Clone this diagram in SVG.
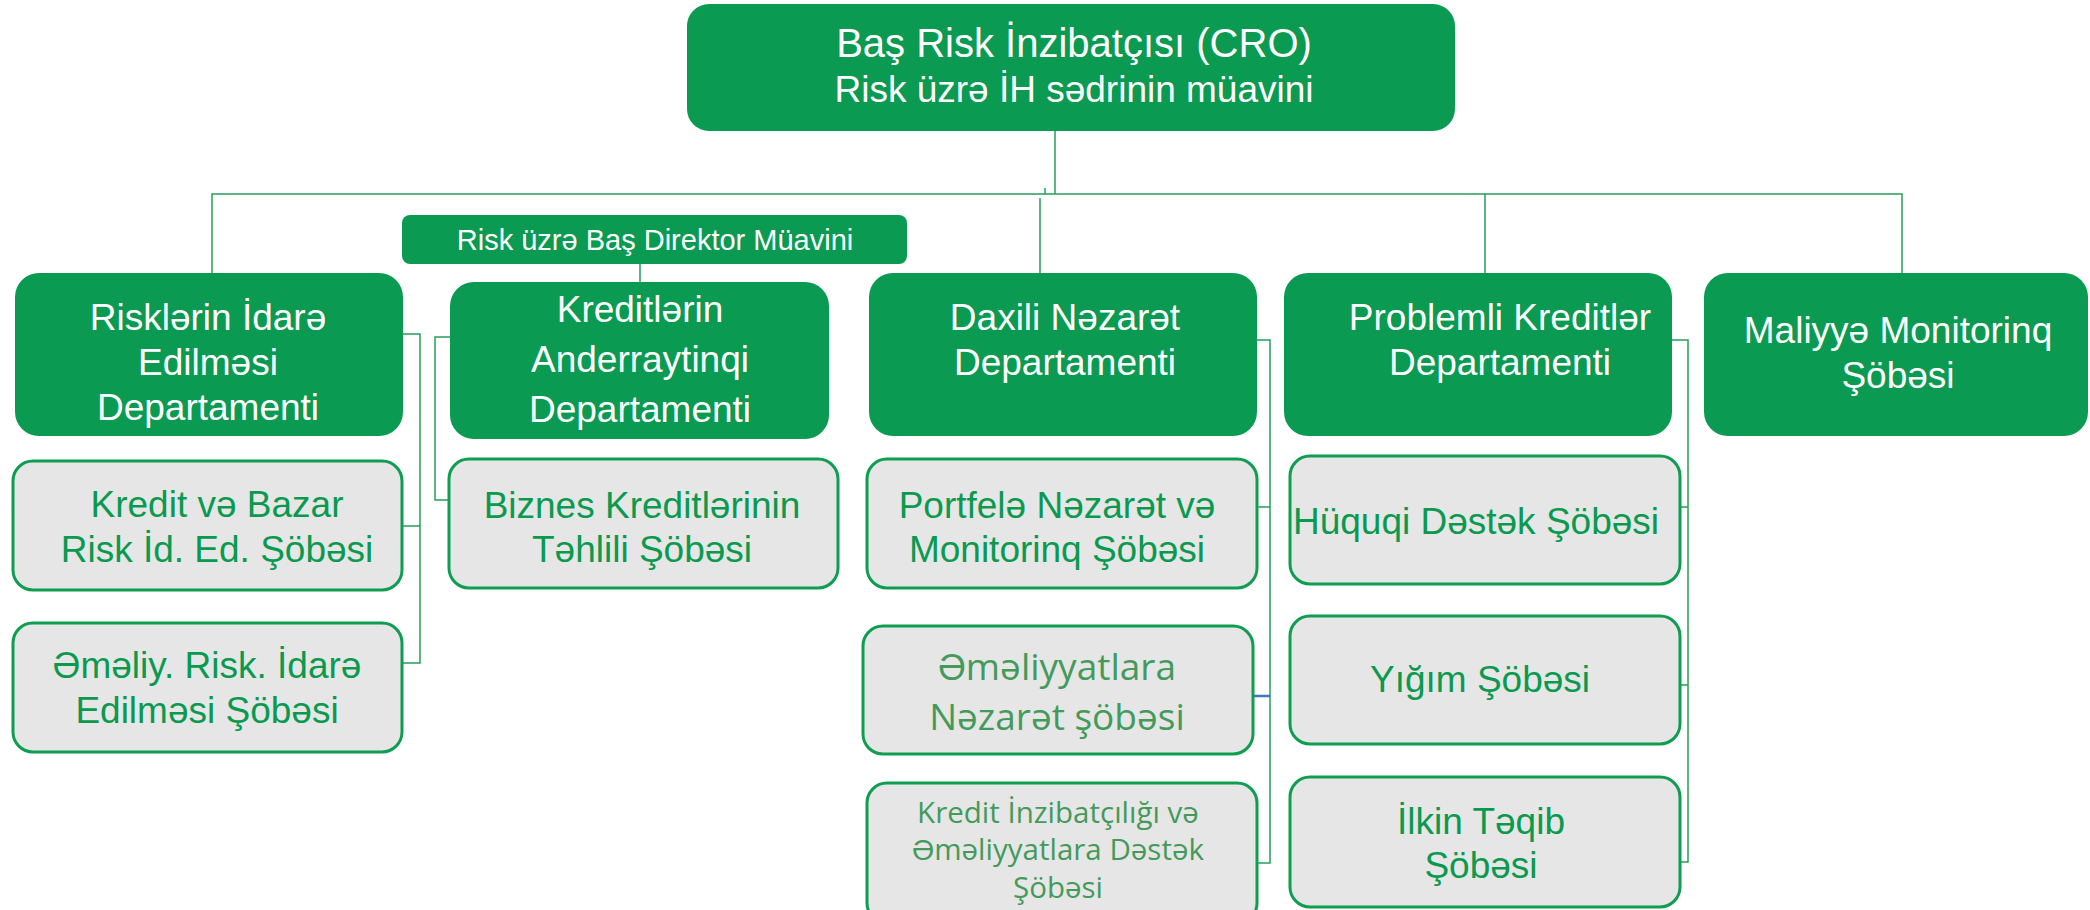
<svg xmlns="http://www.w3.org/2000/svg" width="2090" height="910" viewBox="0 0 2090 910">
<style>
.dk{fill:#0a9a51;}
.lt{fill:#e6e6e6;stroke:#0f9d52;stroke-width:3;}
.tw{font-family:"Liberation Sans",Arial,sans-serif;fill:#ffffff;text-anchor:middle;}
.tg{font-family:"Liberation Sans",Arial,sans-serif;fill:#0a9a4f;text-anchor:middle;font-size:37px;}
.tm{font-family:"Open Sans","Liberation Sans",sans-serif;fill:#449a5a;text-anchor:middle;}
.cn{fill:none;stroke:#2a9d5c;stroke-width:1.5;}
</style>
<rect width="2090" height="910" fill="#ffffff"/>
<g id="connectors">
<path class="cn" d="M1055 131 V194 M212 273 V194 H1045 V188 M1045 194 H1902 V273 M1040 198 V273 M1485 194 V273 M640 225 V282"/>
<path class="cn" d="M403 334 H420 V663 H402 M420 526 H402"/>
<path class="cn" d="M450 337 H435 V500 H449"/>
<path class="cn" d="M1257 340 H1270 V863 H1255 M1270 507 H1257"/>
<path fill="none" stroke="#4472c4" stroke-width="2.5" d="M1270 696 H1253"/>
<path class="cn" d="M1657 340 H1688 V862 H1680 M1688 507 H1680 M1688 685 H1680"/>
</g>
<g id="cro">
<rect class="dk" x="687" y="4" width="768" height="127" rx="22"/>
<text class="tw" font-size="40" x="1074" y="57">Baş Risk İnzibatçısı (CRO)</text>
<text class="tw" font-size="37" x="1074" y="102">Risk üzrə İH sədrinin müavini</text>
</g>
<g id="deputy">
<rect class="dk" x="402" y="215" width="505" height="49" rx="8"/>
<text class="tw" font-size="29" x="655" y="250">Risk üzrə Baş Direktor Müavini</text>
</g>
<g id="risk-dept">
<rect class="dk" x="15" y="273" width="388" height="163" rx="24"/>
<text class="tw" font-size="37" x="208" y="330">Risklərin İdarə</text>
<text class="tw" font-size="37" x="208" y="375">Edilməsi</text>
<text class="tw" font-size="37" x="208" y="420">Departamenti</text>
</g>
<g id="credit-dept">
<rect class="dk" x="450" y="282" width="379" height="157" rx="24"/>
<text class="tw" font-size="37" x="640" y="322">Kreditlərin</text>
<text class="tw" font-size="37" x="640" y="372">Anderraytinqi</text>
<text class="tw" font-size="37" x="640" y="422">Departamenti</text>
</g>
<g id="internal-dept">
<rect class="dk" x="869" y="273" width="388" height="163" rx="24"/>
<text class="tw" font-size="37" x="1065" y="330">Daxili Nəzarət</text>
<text class="tw" font-size="37" x="1065" y="375">Departamenti</text>
</g>
<g id="problem-dept">
<rect class="dk" x="1284" y="273" width="388" height="163" rx="24"/>
<text class="tw" font-size="37" x="1500" y="330">Problemli Kreditlər</text>
<text class="tw" font-size="37" x="1500" y="375">Departamenti</text>
</g>
<g id="finmon">
<rect class="dk" x="1704" y="273" width="384" height="163" rx="24"/>
<text class="tw" font-size="37" x="1898" y="343">Maliyyə Monitorinq</text>
<text class="tw" font-size="37" x="1898" y="388">Şöbəsi</text>
</g>
<g id="credit-market">
<rect class="lt" x="13" y="461" width="389" height="129" rx="20"/>
<text class="tg" x="217" y="517">Kredit və Bazar</text>
<text class="tg" x="217" y="562">Risk İd. Ed. Şöbəsi</text>
</g>
<g id="oprisk">
<rect class="lt" x="13" y="623" width="389" height="129" rx="20"/>
<text class="tg" x="207" y="678">Əməliy. Risk. İdarə</text>
<text class="tg" x="207" y="723">Edilməsi Şöbəsi</text>
</g>
<g id="business">
<rect class="lt" x="449" y="459" width="389" height="129" rx="20"/>
<text class="tg" x="642" y="518">Biznes Kreditlərinin</text>
<text class="tg" x="642" y="562">Təhlili Şöbəsi</text>
</g>
<g id="portfolio">
<rect class="lt" x="867" y="459" width="390" height="129" rx="20"/>
<text class="tg" x="1057" y="518">Portfelə Nəzarət və</text>
<text class="tg" x="1057" y="562">Monitorinq Şöbəsi</text>
</g>
<g id="opcontrol">
<rect class="lt" x="863" y="626" width="390" height="128" rx="20"/>
<text class="tm" font-size="37" x="1057" y="680">Əməliyyatlara</text>
<text class="tm" font-size="37" x="1057" y="730">Nəzarət şöbəsi</text>
</g>
<g id="creditadmin">
<rect class="lt" x="867" y="783" width="390" height="140" rx="20"/>
<text class="tm" font-size="29.5" x="1058" y="823">Kredit İnzibatçılığı və</text>
<text class="tm" font-size="29.5" x="1058" y="860">Əməliyyatlara Dəstək</text>
<text class="tm" font-size="29.5" x="1058" y="898">Şöbəsi</text>
</g>
<g id="legal">
<rect class="lt" x="1290" y="456" width="390" height="128" rx="20"/>
<text class="tg" x="1476" y="534">Hüquqi Dəstək Şöbəsi</text>
</g>
<g id="collection">
<rect class="lt" x="1290" y="616" width="390" height="128" rx="20"/>
<text class="tg" x="1480" y="692">Yığım Şöbəsi</text>
</g>
<g id="initial">
<rect class="lt" x="1290" y="777" width="390" height="130" rx="20"/>
<text class="tg" x="1481" y="834">İlkin Təqib</text>
<text class="tg" x="1481" y="878">Şöbəsi</text>
</g>
</svg>
